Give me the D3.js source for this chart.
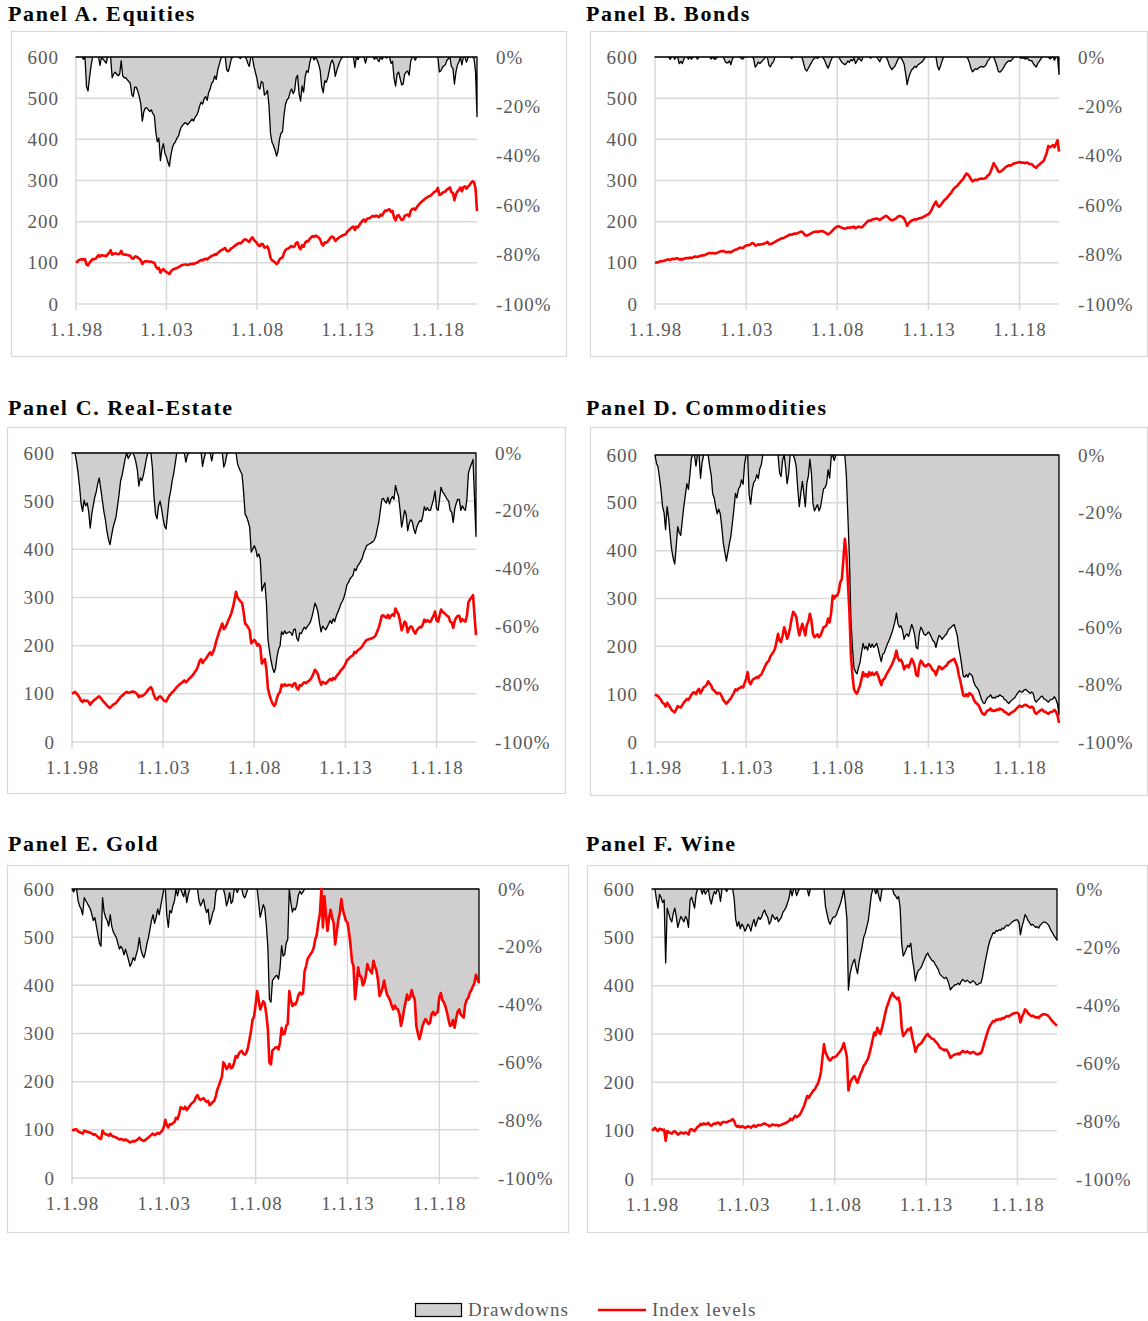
<!DOCTYPE html>
<html>
<head>
<meta charset="utf-8">
<script src="https://cdnjs.cloudflare.com/ajax/libs/d3/7.8.5/d3.min.js"></script>
<style>
  body { margin: 0; background: #fff; }
  svg { display: block; font-family: "Liberation Serif", "Times New Roman", serif; }
</style>
</head>
<body>
<script>
// monthly index levels, Jan 1998 .. Mar 2020 (1998 = 100)
var equities = [
  100,103,107,108,109,108,109,96,94,100,105,109,
  109,110,114,119,115,119,118,117,116,121,124,131,
  120,122,123,122,121,122,129,121,120,120,119,118,
  117,111,110,115,115,113,110,106,97,102,104,104,
  103,102,103,101,100,91,86,88,76,82,85,80,
  78,75,73,79,83,85,86,88,89,92,94,95,
  96,96,95,96,97,98,97,99,100,102,105,107,
  106,109,110,108,112,114,117,118,121,119,124,127,
  130,132,134,136,129,128,131,135,137,140,143,146,
  148,147,150,154,157,156,153,151,158,162,156,152,
  148,142,141,146,145,137,138,140,130,112,106,104,
  101,97,100,108,112,113,124,131,134,135,139,141,
  138,140,148,150,138,133,143,139,149,153,152,158,
  162,165,163,166,164,161,157,146,142,150,149,152,
  157,162,164,161,153,157,160,163,165,167,168,170,
  176,179,183,186,188,180,188,186,192,198,202,205,
  200,207,208,209,212,214,212,215,213,211,217,215,
  221,227,226,229,230,224,226,210,203,214,216,210,
  204,205,214,216,217,213,226,231,232,229,235,240,
  244,248,251,254,257,259,262,263,266,270,273,275,
  282,265,266,270,272,273,278,280,283,272,270,252,
  266,274,277,283,274,284,286,280,285,289,294,298,
  296,280,226
];
var bonds = [
  100,101,101,103,104,104,105,106,108,108,107,109,
  110,109,111,111,108,109,108,110,111,112,111,113,
  112,113,115,115,114,116,117,118,118,119,121,123,
  124,123,124,123,123,124,126,128,128,129,127,126,
  126,127,125,128,130,132,133,135,137,136,136,140,
  142,143,143,145,148,147,142,143,145,144,145,146,
  147,148,151,146,145,147,148,151,153,155,157,159,
  160,161,163,165,167,169,168,170,171,171,172,174,
  176,175,171,167,166,168,170,172,174,175,176,175,
  176,177,177,176,174,171,169,172,175,179,183,186,
  188,189,187,185,184,183,184,186,185,187,186,188,
  184,186,188,187,186,189,193,197,201,203,202,205,
  206,207,208,206,204,207,209,212,214,212,208,205,
  203,205,206,209,212,214,213,211,208,200,190,196,
  200,203,204,206,205,207,208,209,210,212,214,217,
  218,222,228,236,243,249,240,236,240,245,250,254,
  257,262,266,270,276,281,284,287,292,296,300,305,
  311,317,315,310,303,298,300,302,301,303,304,305,
  304,305,307,312,314,322,332,342,336,330,322,321,
  323,326,329,333,335,337,336,338,341,342,343,344,
  345,343,344,343,342,344,341,340,340,336,333,331,
  336,339,342,345,348,358,368,384,381,383,386,381,
  389,398,370
];
var realEstate = [
  100,102,104,101,97,92,86,83,87,85,86,83,
  77,82,85,88,90,93,95,91,87,83,80,76,
  73,71,74,77,79,81,85,89,94,96,99,102,
  104,102,103,104,105,104,102,99,93,96,95,97,
  100,103,108,111,114,108,97,90,88,93,95,92,
  88,85,84,90,96,99,103,106,110,114,117,120,
  122,125,128,124,127,131,134,137,141,146,150,158,
  168,172,164,169,172,177,182,186,181,188,197,210,
  220,230,238,246,234,238,245,253,260,268,280,295,
  312,300,296,292,289,270,246,243,238,232,205,208,
  212,208,200,203,197,163,168,172,150,111,98,88,
  80,75,79,92,100,104,119,116,120,117,118,119,
  118,115,121,122,112,109,118,117,121,124,122,125,
  127,130,135,142,150,146,140,128,119,125,123,121,
  124,128,131,128,133,130,136,140,144,149,152,156,
  162,170,172,176,178,180,187,185,190,192,195,198,
  204,208,212,213,214,215,216,218,222,230,238,250,
  262,263,260,258,264,257,262,265,262,277,270,265,
  250,232,240,250,246,228,236,240,238,230,225,232,
  236,239,238,244,254,250,253,250,250,256,262,271,
  252,250,262,275,270,268,265,262,260,250,248,237,
  252,258,262,262,250,255,252,250,262,290,296,300,
  305,262,222
];
var commodities = [
  100,97,96,92,88,82,80,74,82,78,72,67,
  64,62,68,75,73,72,77,82,86,90,88,93,
  99,103,104,100,107,111,102,108,114,116,120,127,
  122,118,110,108,104,101,103,101,95,88,84,80,
  84,88,91,97,103,110,108,112,113,116,114,123,
  132,146,126,121,128,132,133,136,134,139,141,148,
  155,162,167,170,179,184,188,195,210,226,212,209,
  222,240,230,216,224,240,258,272,268,261,240,223,
  236,247,236,223,245,252,268,255,226,219,222,225,
  219,223,231,240,241,245,258,250,270,306,300,306,
  306,315,334,340,380,425,395,334,270,181,139,110,
  104,101,110,118,132,146,138,142,136,146,140,145,
  140,143,146,138,128,119,130,132,139,145,150,156,
  162,170,178,191,175,170,172,165,152,158,160,156,
  165,174,168,158,140,138,160,170,166,160,158,160,
  163,160,155,150,148,140,150,158,156,152,155,158,
  160,166,168,170,172,174,166,158,140,128,112,97,
  96,100,96,102,100,97,88,83,80,77,70,63,
  58,57,62,66,67,70,65,66,65,68,67,70,
  68,67,63,62,59,57,60,62,64,66,70,73,
  76,74,74,77,78,76,74,72,74,72,62,59,
  62,64,67,68,64,63,61,59,62,63,64,67,
  63,56,40
];
var gold = [
  100,99,101,101,97,95,94,92,98,97,96,95,
  94,92,90,91,88,85,82,81,98,93,91,90,
  88,92,88,86,85,84,82,80,81,80,78,80,
  78,76,74,75,77,76,78,80,84,80,78,77,
  79,82,84,87,90,92,89,91,94,92,95,98,
  106,121,110,105,112,111,114,116,125,122,132,147,
  145,143,148,141,145,150,154,157,160,168,172,165,
  162,164,166,161,158,160,151,154,158,160,170,184,
  192,202,210,240,235,226,230,237,228,230,240,253,
  250,258,262,264,258,256,260,270,288,305,329,335,
  360,388,370,350,358,367,362,340,309,240,236,265,
  268,271,272,267,282,312,298,300,316,320,388,370,
  357,362,360,367,380,385,381,384,429,440,455,460,
  465,470,478,495,505,530,547,600,520,585,545,513,
  540,557,540,530,485,510,534,550,579,557,545,534,
  530,510,485,450,440,371,400,437,420,418,400,405,
  420,444,435,430,425,451,440,430,410,378,385,395,
  410,392,380,375,368,357,350,358,352,350,340,316,
  330,350,365,381,370,375,390,378,370,316,300,288,
  300,315,323,330,325,320,322,340,345,338,342,345,
  375,384,370,365,357,345,330,316,318,328,312,330,
  345,350,340,336,333,360,370,374,385,390,398,405,
  422,412,405
];
var wine = [
  100,103,106,102,99,104,103,101,102,79,99,97,
  95,94,97,99,96,92,94,96,95,94,96,95,
  92,102,103,101,99,104,108,110,114,112,115,113,
  114,116,112,110,113,115,114,117,116,112,117,118,
  118,117,119,120,121,124,120,111,108,110,107,109,
  108,106,107,109,108,106,109,111,108,110,112,111,
  112,114,115,113,112,109,110,113,112,111,112,110,
  111,112,114,115,116,118,120,125,122,126,131,128,
  130,133,138,145,152,162,172,168,174,178,183,186,
  192,198,207,222,250,279,262,255,248,245,249,252,
  252,254,258,262,266,272,281,268,252,183,198,205,
  210,213,205,199,210,218,225,234,238,244,250,262,
  275,290,303,298,313,305,300,312,325,340,354,362,
  372,380,385,378,376,372,375,360,313,296,300,305,
  310,308,313,292,280,263,272,277,279,282,287,292,
  297,300,296,293,290,289,285,282,278,272,270,268,
  266,268,265,259,251,254,256,258,258,260,258,262,
  265,263,262,264,262,260,262,263,261,258,258,260,
  260,268,279,290,300,310,317,322,327,326,330,329,
  331,330,333,332,335,337,336,338,340,342,343,344,
  344,340,324,335,342,351,348,343,340,337,338,336,
  334,335,333,337,339,341,341,340,338,335,330,327,
  323,320,317
];

var levelTicks = [0, 100, 200, 300, 400, 500, 600];
var drawdownTicks = [0, -0.2, -0.4, -0.6, -0.8, -1];
var tickYears = [1998, 2003, 2008, 2013, 2018];

// layout: frame box [x0,y0,x1,y1], plot [left,top,right,bottom], title position
var panels = [
  {title: "Panel A. Equities",    values: equities,    box: [11, 31, 566, 356],  plot: [76, 57, 477, 304],   tx: 8,   ty: 21},
  {title: "Panel B. Bonds",       values: bonds,       box: [590, 31, 1147, 356], plot: [655, 57, 1059, 304], tx: 586, ty: 21},
  {title: "Panel C. Real-Estate", values: realEstate,  box: [7, 427, 565, 793],  plot: [72, 453, 476, 742],  tx: 8,   ty: 415},
  {title: "Panel D. Commodities", values: commodities, box: [590, 427, 1147, 795], plot: [655, 455, 1059, 742], tx: 586, ty: 415},
  {title: "Panel E. Gold",        values: gold,        box: [7, 865, 568, 1232], plot: [72, 889, 479, 1178], tx: 8,   ty: 851},
  {title: "Panel F. Wine",        values: wine,        box: [587, 865, 1147, 1232], plot: [652, 889, 1057, 1179], tx: 586, ty: 851}
];

var gridColor = "#d9d9d9",
    textColor = "#595959",
    fillColor = "#d0cece",
    fontFamily = "'Liberation Serif', 'Times New Roman', serif";

function monthDate(i) { return new Date(1998, i, 1); }

var svg = d3.select("body").append("svg")
    .attr("width", 1148)
    .attr("height", 1321);

panels.forEach(function(p, k) {
  var left = p.plot[0], top = p.plot[1], right = p.plot[2], bottom = p.plot[3];

  var x = d3.scaleTime()
      .domain([monthDate(0), monthDate(p.values.length - 1)])
      .range([left, right]);
  var y = d3.scaleLinear().domain([0, 600]).range([bottom, top]);
  var yd = d3.scaleLinear().domain([-1, 0]).range([bottom, top]);

  // drawdown = level relative to its running peak
  var peak = 0;
  var points = p.values.map(function(v, i) {
    peak = Math.max(peak, v);
    return {date: monthDate(i), level: v, dd: v / peak - 1};
  });

  var g = svg.append("g");

  g.append("rect")
      .attr("x", p.box[0] + 0.5).attr("y", p.box[1] + 0.5)
      .attr("width", p.box[2] - p.box[0]).attr("height", p.box[3] - p.box[1])
      .attr("fill", "none").attr("stroke", gridColor).attr("stroke-width", 1.2);

  g.append("text")
      .attr("x", p.tx).attr("y", p.ty)
      .attr("font-family", fontFamily)
      .attr("font-size", 22).attr("font-weight", "bold")
      .attr("letter-spacing", 1.6)
      .attr("fill", "#000")
      .text(p.title);

  // grid
  g.selectAll("line.h").data(levelTicks).enter().append("line")
      .attr("x1", left).attr("x2", right)
      .attr("y1", function(d) { return y(d); }).attr("y2", function(d) { return y(d); })
      .attr("stroke", gridColor).attr("stroke-width", 1.5);

  var tickDates = tickYears.map(function(yr) { return new Date(yr, 0, 1); });
  g.selectAll("line.v").data(tickDates).enter().append("line")
      .attr("x1", function(d) { return x(d); }).attr("x2", function(d) { return x(d); })
      .attr("y1", top).attr("y2", bottom + 6)
      .attr("stroke", gridColor).attr("stroke-width", 1.5);

  // axes
  var leftAxis = g.append("g")
      .attr("transform", "translate(" + left + ",0)")
      .call(d3.axisLeft(y).tickValues(levelTicks).tickSize(0).tickPadding(17));
  var rightAxis = g.append("g")
      .attr("transform", "translate(" + right + ",0)")
      .call(d3.axisRight(yd).tickValues(drawdownTicks).tickSize(0).tickPadding(19)
        .tickFormat(function(d) { return Math.round(d * 100) + "%"; }));
  var bottomAxis = g.append("g")
      .attr("transform", "translate(0," + bottom + ")")
      .call(d3.axisBottom(x).tickValues(tickDates).tickSize(0).tickPadding(19)
        .tickFormat(function(d) { return "1.1." + String(d.getFullYear()).slice(2); }));

  [leftAxis, rightAxis, bottomAxis].forEach(function(a) {
    a.select(".domain").remove();
    a.attr("font-family", fontFamily).attr("font-size", 19);
    a.selectAll("text").attr("fill", textColor).attr("letter-spacing", 1);
  });

  // clip
  g.append("clipPath").attr("id", "clip" + k)
    .append("rect")
      .attr("x", left - 2).attr("y", top - 2)
      .attr("width", right - left + 4).attr("height", bottom - top + 4);

  var area = d3.area()
      .x(function(d) { return x(d.date); })
      .y0(yd(0))
      .y1(function(d) { return yd(d.dd); });

  g.append("path")
      .datum(points)
      .attr("clip-path", "url(#clip" + k + ")")
      .attr("d", area)
      .attr("fill", fillColor)
      .attr("stroke", "#000")
      .attr("stroke-width", 1.3)
      .attr("stroke-linejoin", "round");

  var line = d3.line()
      .x(function(d) { return x(d.date); })
      .y(function(d) { return y(d.level); });

  g.append("path")
      .datum(points)
      .attr("clip-path", "url(#clip" + k + ")")
      .attr("d", line)
      .attr("fill", "none")
      .attr("stroke", "#ff0000")
      .attr("stroke-width", 2.6)
      .attr("stroke-linejoin", "round");
});

// legend
var legend = svg.append("g")
    .attr("font-family", fontFamily).attr("font-size", 19)
    .attr("letter-spacing", 1).attr("fill", textColor);
legend.append("rect")
    .attr("x", 415.5).attr("y", 1303.5).attr("width", 46).attr("height", 13)
    .attr("fill", fillColor).attr("stroke", "#000").attr("stroke-width", 1.2);
legend.append("text").attr("x", 468).attr("y", 1316).text("Drawdowns");
legend.append("line")
    .attr("x1", 598).attr("x2", 646).attr("y1", 1310).attr("y2", 1310)
    .attr("stroke", "#ff0000").attr("stroke-width", 2.6);
legend.append("text").attr("x", 652).attr("y", 1316).text("Index levels");
</script>
</body>
</html>
